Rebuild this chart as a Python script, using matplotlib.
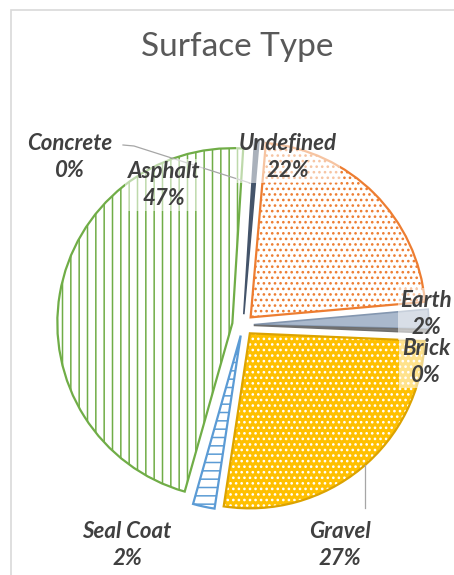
import matplotlib
matplotlib.use("Agg")
import matplotlib.pyplot as plt
from matplotlib.patches import Wedge, Rectangle
from matplotlib.lines import Line2D

# Surface type shares (percent), clockwise from just right of 12 o'clock
categories = ["Undefined", "Earth", "Brick", "Gravel", "Seal Coat", "Asphalt", "Concrete"]
shares = [22.2, 1.8, 0.3, 26.7, 2.0, 46.6, 0.4]

# Slice styling: face colour, edge colour, hatch, hatch colour
face_colors = ["white", "#A9B8CC", "#7F7F7F", "#FFC000", "white", "white", "#44546A"]
edge_colors = ["#ED7D31", "#8497B0", "#6F6F6F", "#DCA300", "#5B9BD5", "#70AD47", "#44546A"]
hatches = ["...", None, None, "...", "--", "||", None]
hatch_colors = ["#ED7D31", None, None, "white", "#5B9BD5", "#70AD47", None]

# Label anchor points in pixel space (x from left, y from top)
label_xy = {
    "Undefined": (288, 157),
    "Earth": (426, 314),
    "Brick": (426, 362),
    "Gravel": (340, 545),
    "Seal Coat": (127, 545),
    "Asphalt": (164, 185),
    "Concrete": (70, 157),
}

W, H = 454, 575
DPI = 100
plt.rcParams["hatch.linewidth"] = 1.1

fig = plt.figure(figsize=(W / DPI, H / DPI), dpi=DPI)
ax = fig.add_axes([0, 0, 1, 1])

center = (243, H - 325)
radius = 175
# pie() applies explode as an absolute offset in data units (pixels here)
explode = [10.8] * len(shares)

wedges, _ = ax.pie(
    shares,
    explode=explode,
    startangle=85,
    counterclock=False,
    radius=radius,
    center=center,
    wedgeprops=dict(linewidth=0),
)

for w, fc, ec, hatch, hc in zip(wedges, face_colors, edge_colors, hatches, hatch_colors):
    w.set_facecolor(fc)
    if hatch:
        # hatch pattern layer (hatch colour follows the edge colour)
        w.set_edgecolor(hc)
        w.set_hatch(hatch)
        w.set_linewidth(0)
        outline = Wedge(w.center, w.r, w.theta1, w.theta2, facecolor="none",
                        edgecolor=ec, linewidth=1.6, zorder=w.get_zorder() + 0.1)
        ax.add_patch(outline)
    else:
        w.set_edgecolor(ec)
        w.set_linewidth(1.2)

# leader lines
ax.add_line(Line2D([123, 134, 250], [H - 145, H - 146, H - 183],
                   color="#A6A6A6", linewidth=0.9, zorder=3))
ax.add_line(Line2D([365, 365], [H - 465, H - 508],
                   color="#A6A6A6", linewidth=0.9, zorder=3))

# data labels
for cat, val in zip(categories, shares):
    x, y = label_xy[cat]
    ax.text(x, H - y, f"{cat}\n{val:.0f}%", ha="center", va="center",
            family="Lato", fontweight="bold", fontstyle="italic",
            fontsize=16, color="#404040", linespacing=1.3, zorder=5,
            bbox=dict(boxstyle="square,pad=0.12", facecolor="white",
                      edgecolor="none", alpha=0.55))

# title
ax.text(237, H - 47, "Surface Type", ha="center", va="center",
        family="Lato", fontweight="normal", fontsize=24, color="#595959", zorder=5)

# chart area border
ax.add_patch(Rectangle((11, -20), W + 40, H - 10 + 20, facecolor="none",
                       edgecolor="#D9D9D9", linewidth=1.2, zorder=6))

ax.set_xlim(0, W)
ax.set_ylim(0, H)
ax.set_aspect("equal")
ax.axis("off")

fig.savefig("out.png", dpi=DPI)
